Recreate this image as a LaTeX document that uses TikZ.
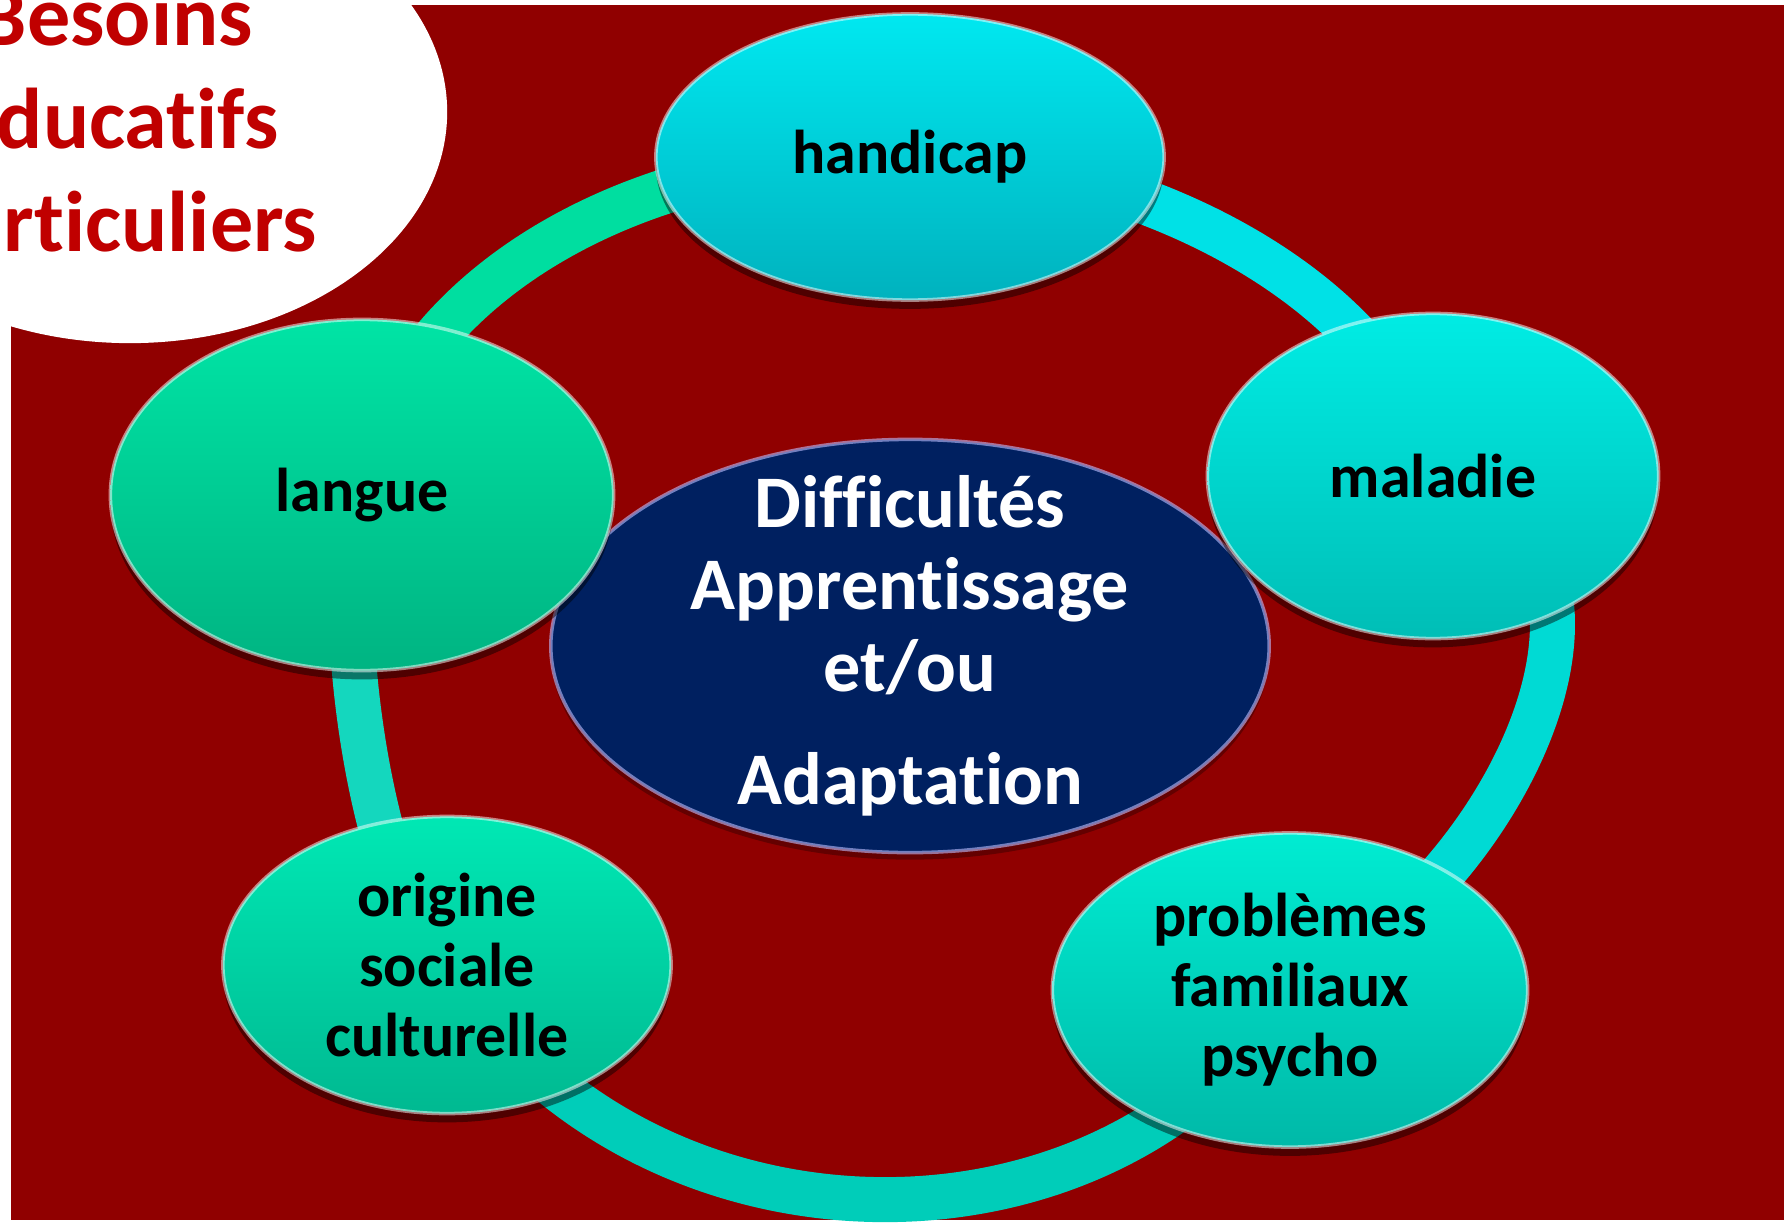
\documentclass[tikz,border=0pt]{standalone}
\usepackage{fontspec}
\setmainfont{Carlito}[Ligatures=NoCommon]
\usepackage{tikz}
\usetikzlibrary{shapes.geometric,shadows}
\definecolor{fondrouge}{RGB}{144,0,0}
\definecolor{titrerouge}{RGB}{192,0,0}
\definecolor{marine}{RGB}{0,32,96}
\definecolor{anneauA}{RGB}{0,222,160}
\definecolor{anneauB}{RGB}{0,225,230}
\definecolor{anneauC}{RGB}{0,218,212}
\definecolor{anneauD}{RGB}{0,205,185}
\definecolor{anneauE}{RGB}{20,215,190}
\tikzstyle{point}=[ellipse, inner sep=0pt, align=center, text=black, draw=white, draw opacity=0.5, line width=1pt, font=\fontsize{17.6}{19.9}\selectfont\bfseries, drop shadow={shadow xshift=0pt, shadow yshift=-2.5pt, opacity=0.45, fill=black}]
\tikzstyle{pointcentre}=[ellipse, inner xsep=0pt, inner ysep=-8pt, align=center, text=white, fill=marine, draw=blue!25!white, draw opacity=0.6, line width=1pt, font=\fontsize{21.1}{23.3}\selectfont\bfseries, drop shadow={shadow xshift=0pt, shadow yshift=-2pt, opacity=0.3, fill=black}]
\tikzstyle{bulle}=[ellipse, fill=white, inner sep=0pt]
\tikzstyle{titre}=[align=center, text=titrerouge, font=\fontsize{24.5}{29.2}\selectfont\bfseries]
\tikzstyle{anneau}=[line width=12.8pt]
\pgfdeclarelayer{fond}
\pgfdeclarelayer{arriere}
\pgfsetlayers{fond,arriere,main}

\begin{document}
\begin{tikzpicture}[x=0.01cm, y=-0.01cm]
	\useasboundingbox (0,0) rectangle (1790,1227);
	\begin{scope}
		\node (5) at (910,646)[pointcentre, minimum width=7.18cm, minimum height=4.13cm] {Difficultés\\Apprentissage\\et/ou\\[8.8pt]Adaptation};
		\node (0) at (910,157)[point, minimum width=5.08cm, minimum height=2.86cm, top color={rgb,255:red,0;green,232;blue,240}, bottom color={rgb,255:red,0;green,178;blue,190}] {handicap};
		\node (1) at (1433,476)[point, minimum width=4.51cm, minimum height=3.25cm, top color={rgb,255:red,0;green,236;blue,228}, bottom color={rgb,255:red,0;green,190;blue,182}] {maladie};
		\node (2) at (1290,990)[point, minimum width=4.75cm, minimum height=3.14cm, top color={rgb,255:red,0;green,236;blue,210}, bottom color={rgb,255:red,0;green,185;blue,168}] {problèmes\\familiaux\\psycho};
		\node (3) at (447,965)[point, minimum width=4.48cm, minimum height=2.97cm, top color={rgb,255:red,0;green,232;blue,180}, bottom color={rgb,255:red,0;green,185;blue,145}] {origine\\sociale\\culturelle};
		\node (4) at (362,495)[point, minimum width=5.03cm, minimum height=3.51cm, top color={rgb,255:red,0;green,228;blue,165}, bottom color={rgb,255:red,0;green,180;blue,130}] {langue};
	\end{scope}
	\begin{pgfonlayer}{arriere}
		\path [anneau, draw=anneauB] (0.center) .. controls (1150,160) and (1400,300) .. (1.center);
		\path [anneau, draw=anneauC] (1.center) .. controls (1680,540) and (1500,900) .. (2.center);
		\path [anneau, draw=anneauD] (2.center) .. controls (1110,1275) and (640,1272) .. (3.center);
		\path [anneau, draw=anneauE] (3.center) .. controls (370,900) and (330,600) .. (4.center);
		\path [anneau, draw=anneauA] (4.center) .. controls (390,300) and (620,150) .. (0.center);
	\end{pgfonlayer}
	\begin{pgfonlayer}{fond}
		\fill [fondrouge] (11,5) rectangle (1784,1220);
		\node (6) at (130,112)[bulle, minimum width=6.34cm, minimum height=4.62cm] {};
		\node (7) at (116,125)[titre] {Besoins\\éducatifs\\particuliers};
	\end{pgfonlayer}
\end{tikzpicture}
\end{document}
